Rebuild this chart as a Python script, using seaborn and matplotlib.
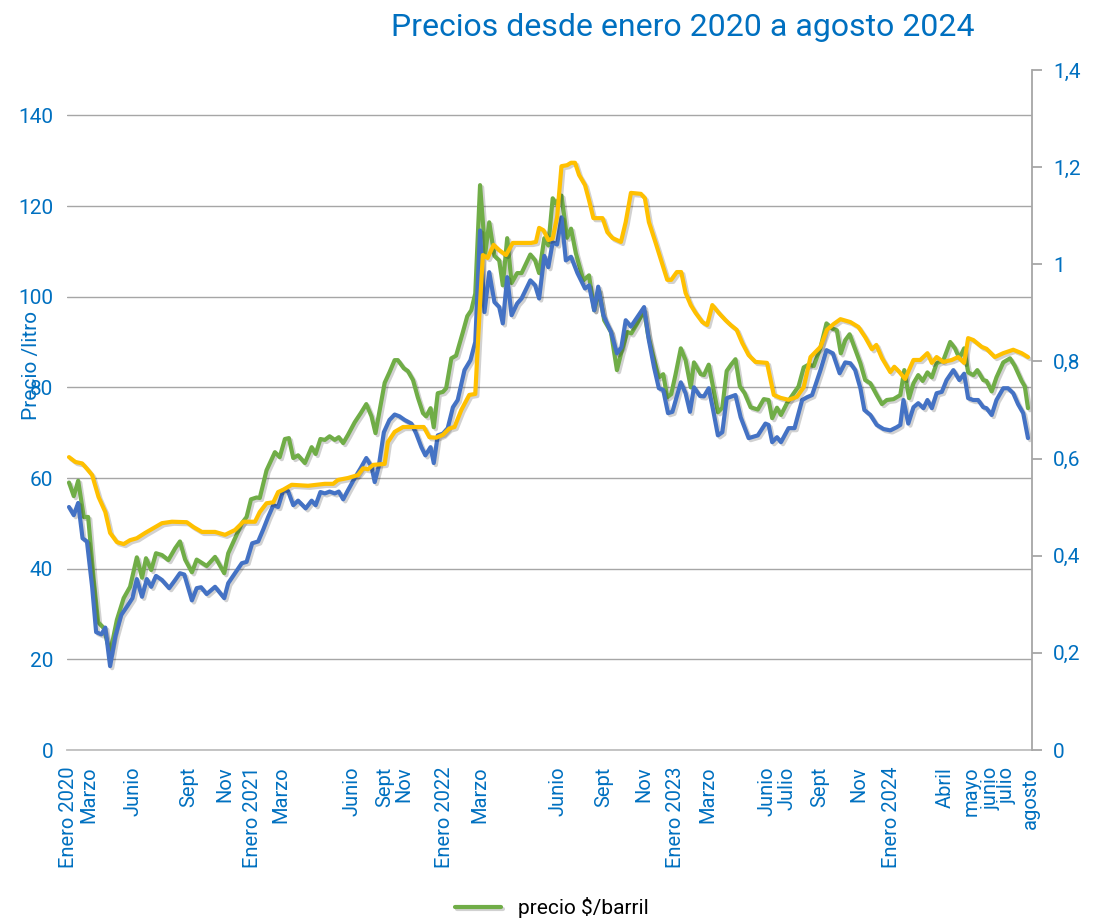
import pandas as pd
import seaborn as sns
import matplotlib.pyplot as plt
import matplotlib.patheffects as pe
from matplotlib import font_manager

sns.set_theme(style="white")

# fuente estrecha si existe, si no Roboto
nombres = {f.name for f in font_manager.fontManager.ttflist}
estrecha = "Liberation Sans Narrow" in nombres
fuente = "Liberation Sans Narrow" if estrecha else "Roboto"
plt.rcParams["font.family"] = [fuente, "DejaVu Sans"]
k = 1.15 if estrecha else 1.0

AZUL_TXT = "#0070C0"
VERDE = "#70AD47"
AZUL = "#4472C4"
AMARILLO = "#FFC000"

# ---------------------------------------------------------
# DATOS (semana desde enero 2020)
# ---------------------------------------------------------
semanas_barril = [0, 1.2, 2.3, 3.7, 4.8, 6.2, 7.3, 8.7, 10.3, 12, 13.7, 15.3, 17, 18.3, 19.3, 20.6,
                  21.8, 23.3, 24.9, 26.6, 27.8, 29.1, 30.8, 32, 34.5, 36.6, 38.9, 39.9, 41.6, 43.3,
                  44.5, 45.6, 47, 47.8, 49.5, 51.6, 52.8, 54.1, 55.1, 56.2, 57.4, 59.1, 60.8, 61.8,
                  63, 64.1, 65.3, 66.6, 67.6, 68.7, 69.9, 71.6, 73.1, 74.5, 75.8, 76.8, 79.1, 80.3,
                  81.6, 82.4, 83.9, 84.9, 86.2, 87.4, 88.7, 89.5, 90.6, 91.4, 92.4, 93.7, 94.5, 95.8,
                  97, 98.7, 99.8, 100.8, 101.8, 103, 104.3, 105.3, 106.6, 107.8, 108.7, 109.8, 110.9,
                  112.3, 113.4, 115.6, 116.8, 117.8, 119.1, 120.1, 121.2, 122, 123.4, 124.8, 125.8,
                  127, 128.9, 130.3, 131.6, 132.8, 134.1, 135.8, 137.3, 138.4, 139.9, 140.9, 142.4,
                  144.1, 145.1, 146.2, 147.8, 148.9, 149.9, 150.9, 152, 153.3, 154.5, 155.8, 156.6,
                  158.3, 159.1, 160.3, 161.4, 162.6, 163.7, 164.8, 165.9, 167, 168.1, 169.3, 170.8,
                  172.6, 174.1, 175.3, 176.2, 177.4, 178.4, 179.9, 181.6, 182.8, 184.1, 185.3, 186.6,
                  188.3, 189.8, 191.2, 192.4, 193.4, 194.5, 195.6, 197, 198.3, 199.5, 200.8, 202.4,
                  203.7, 204.9, 206.6, 208.3, 209.3, 210.5, 211.6, 212.8, 213.9, 215.1, 216.2, 217.4,
                  219.1, 220.8, 222, 223.1, 224.3, 225.3, 226.6, 227.6, 229.1, 229.9, 231.2, 232.4,
                  234.1, 235.8, 237, 238.7, 239.5, 240.3]
precio_barril = [59, 56, 59.4, 51.4, 51.4, 37.5, 28.2, 26.9, 21.4, 28.7, 33.5, 36, 42.5, 38, 42.3, 39.7,
                 43.4, 43, 41.9, 44.5, 46, 42, 39.2, 42, 40.6, 42.6, 39, 43.4, 46.7, 50,
                 51.4, 55.3, 55.7, 55.6, 61.7, 65.7, 64.6, 68.6, 68.8, 64.4, 65, 63.3, 66.8, 65.3,
                 68.6, 68.4, 69.2, 68.4, 69, 67.7, 69.5, 72.3, 74.3, 76.3, 73.6, 69.9, 81, 83.3,
                 86, 86, 84.2, 83.6, 81.6, 77.8, 74.3, 73.6, 75.4, 71.2, 78.7, 79, 79.8, 86.4,
                 87, 92.2, 95.7, 97, 100.7, 124.6, 109.6, 116.4, 109, 108, 102.5, 112.9, 103,
                 105.2, 105.2, 109.3, 108, 105.2, 112.9, 111.3, 121.7, 120.5, 122.3, 113, 115,
                 109.6, 103.6, 104.7, 97, 101.4, 94.8, 92.2, 83.8, 87.7, 92.2, 91.9, 94.1,
                 97, 91.5, 87.5, 82.2, 82.9, 77.8, 78.5, 82.9, 88.6, 86, 80, 85.5,
                 82.9, 82.7, 85, 80, 74.5, 75.5, 83.6, 85, 86.2, 80.2, 78.7, 75.6,
                 75.1, 77.4, 77.2, 73.2, 75.5, 73.9, 76.5, 78.7, 80.2, 84.4, 85, 84.7,
                 88.8, 94.1, 93, 92.6, 87.5, 90.4, 91.7, 88.4, 85.3, 81.6, 80.9, 78.3,
                 76.3, 77.2, 77.4, 78.3, 83.8, 77.6, 80.9, 82.7, 81.4, 83.3, 82.2, 85.3,
                 86, 90, 88.6, 86.4, 88.6, 83.3, 82.7, 83.8, 81.6, 81.4, 79.1, 82.2,
                 85.5, 86.4, 84.7, 81.4, 80.2, 75.4]

semanas_azul = [0, 1.2, 2.3, 3.4, 4.5, 5.8, 6.8, 8.1, 9.1, 10.3, 11.6, 13.1, 14.5, 15.9, 17, 18.3,
                19.5, 20.6, 21.8, 23.3, 25.1, 26.6, 27.8, 28.9, 30.8, 32, 33.1, 34.5, 36.6, 38.9,
                39.9, 41.6, 43.3, 44.5, 45.9, 47.4, 48.7, 49.9, 51.2, 52.4, 53.7, 54.9, 56.2, 57.4,
                59.3, 60.8, 61.8, 63, 64.1, 65.3, 66.6, 67.6, 68.7, 69.9, 71.6, 73.1, 74.5, 75.8,
                76.6, 77.6, 78.9, 80.3, 81.6, 82.8, 84.1, 85.8, 87, 88.3, 89.3, 90.6, 91.4, 92.4,
                93.7, 94.9, 96.2, 97.4, 99.1, 100.6, 101.8, 103, 104.1, 105.3, 106.6, 107.8, 108.7,
                109.8, 110.9, 112.3, 113.4, 115.6, 116.8, 117.8, 119.1, 120.1, 121.2, 122.3, 123.4,
                124.5, 125.8, 127.4, 129.3, 130.3, 131.6, 132.6, 133.9, 135.8, 137.3, 138.4, 139.5,
                140.8, 142.4, 144.1, 145.3, 146.6, 147.8, 148.9, 150.1, 151.2, 153.3, 154.5, 155.6,
                156.6, 158.1, 159.1, 160.3, 161.4, 162.6, 163.7, 164.8, 167, 168.3, 170.3, 172.6,
                174.5, 175.3, 176.2, 177.4, 178.4, 180.3, 181.8, 183.7, 184.9, 186.2, 188.3, 189.8,
                191.4, 193.1, 194.5, 195.8, 197, 198.3, 199.3, 200.8, 202.4, 204.1, 205.8, 207.4,
                208.3, 209.1, 210.3, 211.6, 212.8, 214.1, 215.1, 216.2, 217.4, 218.7, 219.9, 221.6,
                223.1, 224.3, 225.3, 226.6, 227.8, 229.1, 229.9, 231.2, 232.4, 234.1, 235.3, 236.6,
                237.8, 239.1, 240.3]
precio_azul = [53.6, 51.8, 54.5, 46.7, 46, 36, 26, 25.5, 27, 18.5, 25, 29.8, 31.6, 33.5, 37.7, 33.8,
               37.7, 36, 38.4, 37.5, 35.7, 37.5, 39, 38.7, 33, 35.7, 35.9, 34.4, 36, 33.5,
               36.8, 39, 41.2, 41.5, 45.6, 46, 48.7, 51.4, 54, 53.6, 57.3, 57.1, 54, 55,
               53.3, 55, 54, 56.9, 56.6, 57, 56.6, 57, 55.3, 57.3, 60, 62.2, 64.4, 62.5,
               59.1, 62.5, 70.1, 72.8, 74, 73.6, 72.8, 72, 69.8, 66.8, 65, 66.8, 63.3, 69.4,
               69.8, 71, 75.6, 77.2, 83.8, 86, 90, 114.6, 96.6, 105.4, 98.8, 97.7, 94.1,
               104.3, 95.9, 98.5, 99.6, 103.6, 102.5, 99.6, 109, 106.5, 112, 111.5, 117.5,
               108, 108.8, 105.2, 101.8, 102.5, 97, 102.2, 95.9, 92.2, 87.5, 88.8, 94.8,
               93.4, 95.5, 97.7, 90.4, 84.4, 79.8, 79.4, 74.3, 74.6, 81.1, 78.7, 74.6,
               80, 78.1, 78, 79.8, 75, 69.4, 70.1, 77.6, 78.3, 73.4, 68.8, 69.4,
               72, 71.7, 67.9, 69, 67.9, 71, 71, 77.2, 77.8, 78.3, 83.8, 88.2,
               87.5, 83.1, 85.5, 85.3, 83.8, 79.8, 75, 73.9, 71.7, 70.8, 70.5, 71.2,
               71.7, 77.2, 72, 75.6, 76.5, 75.4, 77.2, 75.4, 78.7, 79, 81.6, 83.8,
               81.6, 83, 77.6, 77.2, 77.2, 75.6, 75.4, 73.9, 77.2, 79.8, 79.8, 78.7,
               76.3, 74.3, 68.8]

semanas_litro = [0, 1.6, 3.3, 4.5, 5.8, 7.4, 9.1, 10.3, 12, 13.7, 15.3, 17, 19.1, 20.8, 23.3, 25.8,
                 29.5, 31.2, 33.3, 36.6, 39.1, 41.6, 43.7, 46.6, 47.8, 49.5, 51.2, 52.4, 53.7, 55.8,
                 59.9, 64.1, 66.2, 67.4, 69.9, 72.4, 73.7, 74.9, 76.2, 79.1, 79.9, 81.6, 83.7, 88.9,
                 90.3, 92, 93.7, 95.3, 96.6, 98.3, 100.3, 101.8, 102.8, 103.7, 104.9, 106.4, 107.8,
                 109.5, 111.2, 115.8, 117, 117.8, 118.9, 120.1, 121.2, 122.3, 123.4, 124.8, 125.8,
                 126.8, 127.8, 129.3, 130.3, 131.4, 133.7, 134.9, 136.2, 138.3, 139.5, 140.8, 143.3,
                 144.3, 145.3, 147, 148.7, 149.9, 150.9, 152.3, 153.4, 154.5, 155.8, 157, 158.7,
                 159.9, 161.2, 162.8, 164.5, 165.8, 167.3, 168.7, 170.3, 172, 174.9, 175.8, 176.6,
                 178.3, 180.3, 182.4, 184.1, 185.8, 187, 188.3, 189.9, 191.6, 193.3, 195.8, 197.8,
                 199.5, 201.2, 202.3, 203.7, 205.8, 206.8, 208.1, 209.5, 211.6, 213.3, 215.1, 216.2,
                 217.4, 219.1, 221.2, 222.8, 224.3, 225.3, 226.6, 228.7, 229.9, 232, 234.1, 236.6,
                 238.7, 240.3]
precio_litro = [0.603, 0.593, 0.59, 0.579, 0.566, 0.521, 0.49, 0.447, 0.428, 0.424, 0.432, 0.436,
                0.447, 0.455, 0.467, 0.47, 0.469, 0.459, 0.449, 0.449, 0.443, 0.453, 0.47, 0.47,
                0.49, 0.508, 0.51, 0.531, 0.536, 0.546, 0.544, 0.548, 0.548, 0.556, 0.56, 0.566,
                0.58, 0.578, 0.587, 0.589, 0.634, 0.655, 0.665, 0.665, 0.644, 0.643, 0.649, 0.662,
                0.665, 0.70, 0.731, 0.733, 0.891, 1.019, 1.013, 1.04, 1.029, 1.019, 1.044, 1.044,
                1.046, 1.075, 1.07, 1.05, 1.053, 1.097, 1.202, 1.204, 1.209, 1.209, 1.184, 1.163,
                1.132, 1.095, 1.095, 1.066, 1.054, 1.046, 1.087, 1.147, 1.145, 1.136, 1.087, 1.044,
                0.999, 0.968, 0.968, 0.984, 0.984, 0.941, 0.916, 0.90, 0.881, 0.875, 0.916, 0.90,
                0.885, 0.875, 0.865, 0.838, 0.813, 0.799, 0.797, 0.762, 0.731, 0.725, 0.721, 0.727,
                0.747, 0.809, 0.819, 0.83, 0.865, 0.877, 0.887, 0.881, 0.871, 0.85, 0.825, 0.834,
                0.807, 0.778, 0.789, 0.778, 0.764, 0.803, 0.803, 0.817, 0.797, 0.809, 0.799, 0.803,
                0.809, 0.797, 0.848, 0.844, 0.83, 0.826, 0.809, 0.817, 0.824, 0.817, 0.809]

pos_meses = [0, 5, 16, 30, 39, 46, 53, 71, 79, 84, 94, 103, 122.5, 134, 144, 152, 160,
             175, 180, 188, 198, 206, 219.5, 226, 231, 235, 241]
etiquetas_meses = ["Enero 2020", "Marzo", "Junio", "Sept", "Nov", "Enero 2021", "Marzo",
                   "Junio", "Sept", "Nov", "Enero 2022", "Marzo", "Junio", "Sept", "Nov",
                   "Enero 2023", "Marzo", "Junio", "Julio", "Sept", "Nov", "Enero 2024",
                   "Abril", "mayo", "junio", "julio", "agosto"]
ticks_izq = [0, 20, 40, 60, 80, 100, 120, 140]
ticks_der = [0, 0.2, 0.4, 0.6, 0.8, 1.0, 1.2, 1.4]
etiquetas_der = ["0", "0,2", "0,4", "0,6", "0,8", "1", "1,2", "1,4"]

df_barril = pd.DataFrame({"semana": semanas_barril, "precio": precio_barril})
df_azul = pd.DataFrame({"semana": semanas_azul, "precio": precio_azul})
df_litro = pd.DataFrame({"semana": semanas_litro, "precio": precio_litro})

# ---------------------------------------------------------
# GRAFICO
# ---------------------------------------------------------
W, H = 1094, 923
fig = plt.figure(figsize=(W / 100, H / 100), dpi=100)
ax = fig.add_axes([67 / W, 1 - 750 / H, (1032 - 67) / W, (750 - 70) / H])
ax2 = ax.twinx()

sombra = [pe.SimpleLineShadow(offset=(1.5, -1.5), shadow_color="black", alpha=0.18), pe.Normal()]

sns.lineplot(data=df_barril, x="semana", y="precio", ax=ax, color=VERDE, lw=3,
             estimator=None, sort=False, label="precio $/barril", path_effects=sombra)
sns.lineplot(data=df_azul, x="semana", y="precio", ax=ax, color=AZUL, lw=3,
             estimator=None, sort=False, path_effects=sombra)
sns.lineplot(data=df_litro, x="semana", y="precio", ax=ax2, color=AMARILLO, lw=3,
             estimator=None, sort=False, path_effects=sombra)

ax.set_xlim(-0.5, 241.3)
ax.set_ylim(0, 150)
ax2.set_ylim(0, 1.4)

ax.set_yticks(ticks_izq)
ax.set_xticks(pos_meses, etiquetas_meses, rotation=90)
ax2.set_yticks(ticks_der, etiquetas_der)

ax.yaxis.grid(True, color="#A6A6A6", lw=1)
ax.xaxis.grid(False)
ax2.grid(False)
ax.set_axisbelow(True)
ax.set_xlabel("")
ax.set_ylabel("")
ax2.set_ylabel("")

for s in ["left", "top", "right"]:
    ax.spines[s].set_visible(False)
ax.spines["bottom"].set_color("#BFBFBF")
ax.spines["bottom"].set_linewidth(1.3)
for s in ["left", "top", "bottom"]:
    ax2.spines[s].set_visible(False)
ax2.spines["right"].set_color("#A6A6A6")
ax2.spines["right"].set_linewidth(1.3)

ax.tick_params(axis="y", length=0, pad=10, labelcolor=AZUL_TXT, labelsize=15 * k)
ax.tick_params(axis="x", length=0, pad=12, labelcolor=AZUL_TXT, labelsize=14.5 * k)
ax2.tick_params(axis="y", direction="out", length=7, width=1.3, color="#A6A6A6",
                pad=8, labelcolor=AZUL_TXT, labelsize=15 * k)

ax.get_legend().remove()
handles, labels = ax.get_legend_handles_labels()
fig.legend(handles, labels, loc="center", bbox_to_anchor=(552 / W, 1 - 908 / H),
           frameon=False, fontsize=15 * k, handlelength=2.2, labelcolor="black")

fig.text(683 / W, 1 - 28 / H, "Precios desde enero 2020 a agosto 2024",
         ha="center", va="center", color=AZUL_TXT, fontsize=23 * k)
fig.text(31 / W, 1 - 365 / H, "Precio /litro", rotation=90,
         ha="center", va="center", color=AZUL_TXT, fontsize=15 * k)

fig.savefig("out.png", dpi=100)
